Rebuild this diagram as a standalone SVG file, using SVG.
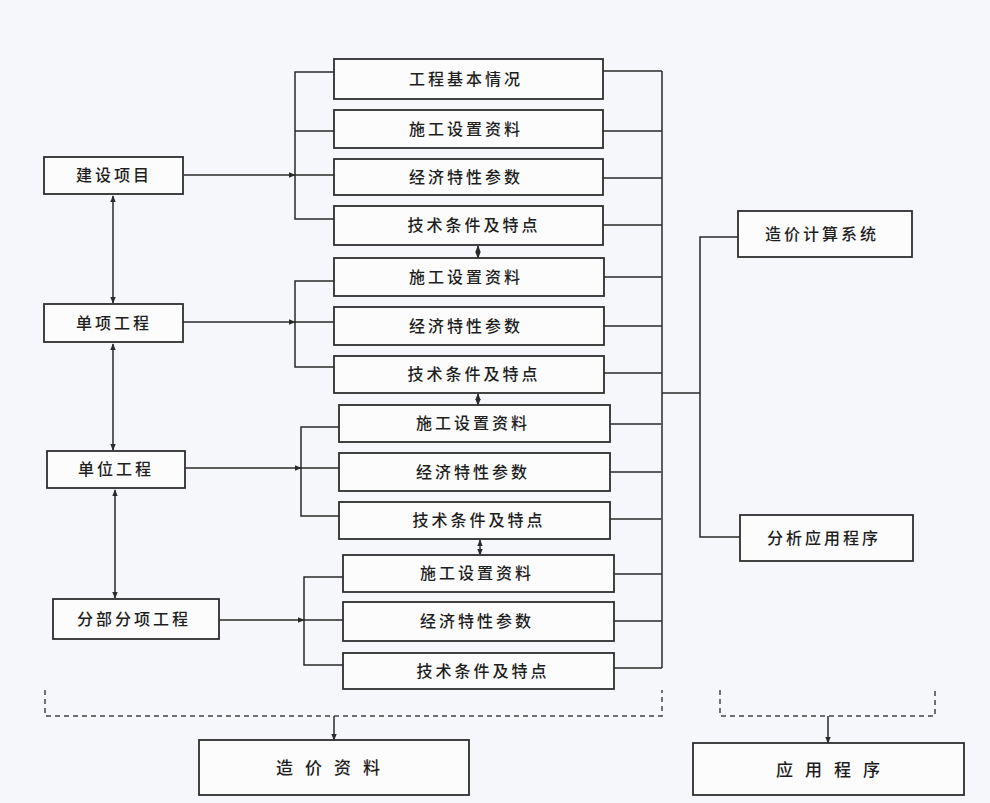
<svg xmlns="http://www.w3.org/2000/svg" width="990" height="803" viewBox="0 0 990 803">
<defs>
<marker id="ah" viewBox="0 0 10 10" refX="9" refY="5" markerWidth="7" markerHeight="7" orient="auto-start-reverse" markerUnits="userSpaceOnUse">
<path d="M0,1 L10,5 L0,9 z" fill="#2a2a2a"/>
</marker>
<style>
.box{fill:#fcfcfd;stroke:#2e2e2e;stroke-width:1.8}
.t{font-family:"Noto Sans CJK SC","Noto Sans CJK TC",sans-serif;font-size:16px;font-weight:500;fill:#1e1e1e;text-anchor:middle;letter-spacing:3px}
.tb{font-family:"Noto Sans CJK SC","Noto Sans CJK TC",sans-serif;font-size:17px;font-weight:500;fill:#1e1e1e;text-anchor:middle;letter-spacing:12px}
.ln{fill:none;stroke:#2a2a2a;stroke-width:1.5}
.ds{fill:none;stroke:#444;stroke-width:1.5;stroke-dasharray:5,4}
</style>
</defs>
<rect width="990" height="803" fill="#f6f7fa"/>

<g id="connectors">
<line class="ln" x1="113" y1="196" x2="113" y2="303" marker-start="url(#ah)" marker-end="url(#ah)"/>
<line class="ln" x1="113" y1="344" x2="113" y2="450" marker-start="url(#ah)" marker-end="url(#ah)"/>
<line class="ln" x1="115" y1="490" x2="115" y2="598" marker-start="url(#ah)" marker-end="url(#ah)"/>
<line class="ln" x1="184" y1="175" x2="295" y2="175" marker-end="url(#ah)"/>
<path class="ln" d="M334,72 H295 V219 H334 M295,131 H334 M295,175 H334"/>
<path class="ln" d="M603,71 H662 M603,131 H662 M603,178 H662 M603,225 H662"/>
<line class="ln" x1="183" y1="322" x2="295" y2="322" marker-end="url(#ah)"/>
<path class="ln" d="M334,281 H295 V367 H334 M295,322 H334"/>
<path class="ln" d="M604,277 H662 M604,326 H662 M604,373 H662"/>
<line class="ln" x1="185" y1="468" x2="301" y2="468" marker-end="url(#ah)"/>
<path class="ln" d="M339,427 H301 V516 H339 M301,468 H339"/>
<path class="ln" d="M610,424 H661 M610,472 H661 M610,519 H661"/>
<line class="ln" x1="219" y1="620" x2="304" y2="620" marker-end="url(#ah)"/>
<path class="ln" d="M343,577 H304 V665 H343 M304,620 H343"/>
<path class="ln" d="M614,574 H662 M614,621 H662 M614,668 H662"/>
<line class="ln" x1="478" y1="246" x2="478" y2="258" marker-start="url(#ah)" marker-end="url(#ah)"/>
<line class="ln" x1="478" y1="394" x2="478" y2="405" marker-start="url(#ah)" marker-end="url(#ah)"/>
<line class="ln" x1="480" y1="540" x2="480" y2="555" marker-start="url(#ah)" marker-end="url(#ah)"/>
<path class="ln" d="M662,71 V668 M662,393 H700 M738,237 H700 V537 H740"/>
<path class="ds" d="M45,690 V716 H662 V690"/>
<line class="ln" x1="334" y1="716" x2="334" y2="740" marker-end="url(#ah)"/>
<path class="ds" d="M720,690 V716 H935 V690"/>
<line class="ln" x1="828" y1="716" x2="828" y2="743" marker-end="url(#ah)"/>
</g>

<g id="n-jsxm"><rect class="box" x="44" y="157" width="139" height="37"/><text class="t" x="114" y="181">建设项目</text></g>
<g id="n-dxgc"><rect class="box" x="44" y="304" width="139" height="38"/><text class="t" x="114" y="329">单项工程</text></g>
<g id="n-dwgc"><rect class="box" x="47" y="451" width="138" height="37"/><text class="t" x="116" y="475">单位工程</text></g>
<g id="n-fbfx"><rect class="box" x="53" y="599" width="166" height="40"/><text class="t" x="134" y="625">分部分项工程</text></g>

<g id="n-g1a"><rect class="box" x="334" y="59" width="269" height="40"/><text class="t" x="466" y="85">工程基本情况</text></g>
<g id="n-g1b"><rect class="box" x="334" y="110" width="269" height="38"/><text class="t" x="466" y="135">施工设置资料</text></g>
<g id="n-g1c"><rect class="box" x="334" y="159" width="269" height="36"/><text class="t" x="466" y="183">经济特性参数</text></g>
<g id="n-g1d"><rect class="box" x="334" y="206" width="269" height="39"/><text class="t" x="474" y="231">技术条件及特点</text></g>

<g id="n-g2a"><rect class="box" x="334" y="258" width="270" height="38"/><text class="t" x="466" y="283">施工设置资料</text></g>
<g id="n-g2b"><rect class="box" x="334" y="307" width="270" height="38"/><text class="t" x="466" y="332">经济特性参数</text></g>
<g id="n-g2c"><rect class="box" x="334" y="356" width="270" height="37"/><text class="t" x="474" y="380">技术条件及特点</text></g>

<g id="n-g3a"><rect class="box" x="339" y="405" width="271" height="37"/><text class="t" x="473" y="429">施工设置资料</text></g>
<g id="n-g3b"><rect class="box" x="339" y="453" width="271" height="38"/><text class="t" x="473" y="478">经济特性参数</text></g>
<g id="n-g3c"><rect class="box" x="339" y="502" width="271" height="37"/><text class="t" x="479" y="526">技术条件及特点</text></g>

<g id="n-g4a"><rect class="box" x="343" y="555" width="271" height="37"/><text class="t" x="477" y="579">施工设置资料</text></g>
<g id="n-g4b"><rect class="box" x="343" y="602" width="271" height="39"/><text class="t" x="477" y="627">经济特性参数</text></g>
<g id="n-g4c"><rect class="box" x="343" y="653" width="271" height="36"/><text class="t" x="483" y="677">技术条件及特点</text></g>

<g id="n-zjjs"><rect class="box" x="738" y="211" width="174" height="46"/><text class="t" x="822" y="240">造价计算系统</text></g>
<g id="n-fxyy"><rect class="box" x="740" y="515" width="173" height="46"/><text class="t" x="824" y="544">分析应用程序</text></g>

<g id="n-zjzl"><rect class="box" x="199" y="740" width="270" height="55"/><text class="tb" x="334" y="774">造价资料</text></g>
<g id="n-yycx"><rect class="box" x="693" y="743" width="271" height="52"/><text class="tb" x="834" y="776">应用程序</text></g>
</svg>
